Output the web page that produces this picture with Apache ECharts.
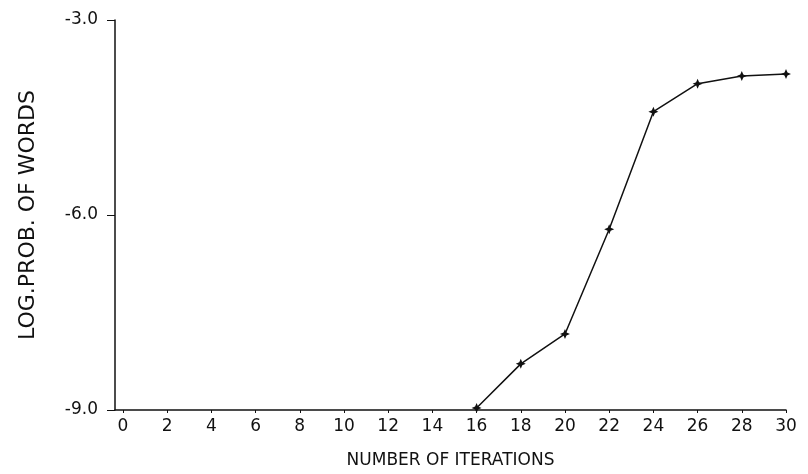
<!DOCTYPE html>
<html>
<head>
<meta charset="utf-8">
<script src="https://cdn.jsdelivr.net/npm/echarts@6/dist/echarts.min.js"></script>
<style>html,body{margin:0;padding:0;background:#fff}#c{width:808px;height:474px}</style>
</head>
<body>
<div id="c"></div>
<script>
// Data
const iterations = [16, 18, 20, 22, 24, 26, 28, 30];
const logProb = [-8.97, -8.29, -7.83, -6.22, -4.41, -3.98, -3.86, -3.83];
const xTicks = [0, 2, 4, 6, 8, 10, 12, 14, 16, 18, 20, 22, 24, 26, 28, 30];
const yTicks = [-9.0, -6.0, -3.0];
const xTitle = 'NUMBER OF ITERATIONS';
const yTitle = 'LOG.PROB. OF WORDS';

const chart = echarts.init(document.getElementById('c'), null, {renderer: 'canvas'});
const font = 'DejaVu Sans, sans-serif';
chart.setOption({
  animation: false,
  backgroundColor: '#fff',
  grid: {left: 115, right: 22, top: 20, bottom: 63},
  xAxis: {
    type: 'value', min: -0.36, max: 30,
    name: xTitle, nameLocation: 'middle', nameGap: 42,
    nameTextStyle: {color: '#111', fontSize: 17, fontFamily: font},
    axisLine: {onZero: false, lineStyle: {color: '#111', width: 1.5}},
    axisTick: {show: true, length: 3, customValues: xTicks, lineStyle: {color: '#111'}},
    axisLabel: {color: '#111', fontSize: 17, fontFamily: font, margin: 8, customValues: xTicks},
    splitLine: {show: false}
  },
  yAxis: {
    type: 'value', min: yTicks[0], max: yTicks[yTicks.length - 1], interval: 3,
    name: yTitle, nameLocation: 'middle', nameGap: 76, nameRotate: 90,
    nameTextStyle: {color: '#111', fontSize: 22, fontFamily: font},
    axisLine: {show: true, onZero: false, lineStyle: {color: '#111', width: 1.5}},
    axisTick: {show: true, length: 8, lineStyle: {color: '#111'}},
    axisLabel: {color: '#111', fontSize: 17, fontFamily: font, margin: 17,
      formatter: v => v.toFixed(1)},
    splitLine: {show: false}
  },
  series: [{
    type: 'line',
    data: iterations.map((x, i) => [x, logProb[i]]),
    symbol: 'path://M0,-10 L3,-3 L10,0 L3,3 L0,10 L-3,3 L-10,0 L-3,-3 Z',
    symbolSize: 10,
    itemStyle: {color: '#111'},
    lineStyle: {color: '#111', width: 1.5}
  }]
});
</script>
</body>
</html>
